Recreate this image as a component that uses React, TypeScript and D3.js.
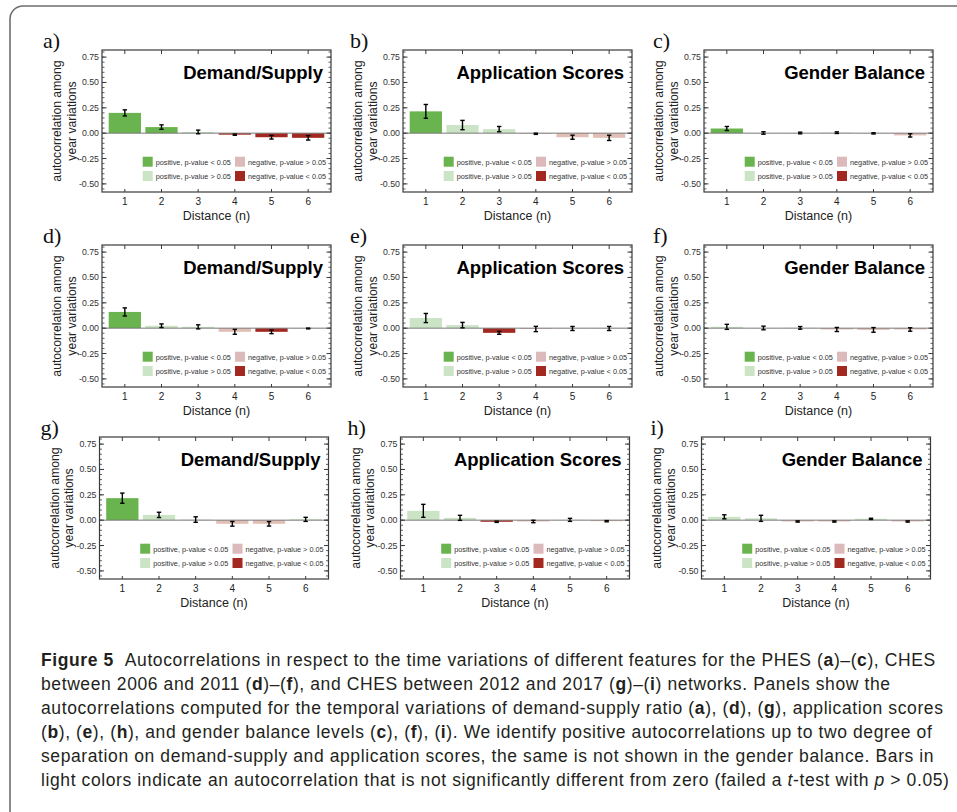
import React, { useEffect } from "react";
import * as d3 from "d3";

// distance n on the x axis
const distances = [1, 2, 3, 4, 5, 6];
const yTicks = [0.75, 0.5, 0.25, 0, -0.25, -0.5];
const featureTitles = ["Demand/Supply", "Application Scores", "Gender Balance"];
const panelLetters = ["a)", "b)", "c)", "d)", "e)", "f)", "g)", "h)", "i)"];

// ps = positive p<0.05, pn = positive p>0.05, nn = negative p>0.05, ns = negative p<0.05
// PHES
const valuesA = [0.2, 0.06, 0.012, -0.015, -0.04, -0.046];
const errorsA = [0.03, 0.022, 0.018, 0.006, 0.018, 0.022];
const classesA = ["ps", "ps", "pn", "ns", "ns", "ns"];
const valuesB = [0.215, 0.08, 0.04, -0.006, -0.04, -0.046];
const errorsB = [0.068, 0.046, 0.026, 0.006, 0.02, 0.026];
const classesB = ["ps", "pn", "pn", "nn", "nn", "nn"];
const valuesC = [0.046, 0.002, 0.002, 0.005, -0.002, -0.022];
const errorsC = [0.02, 0.012, 0.008, 0.008, 0.006, 0.016];
const classesC = ["ps", "pn", "pn", "pn", "nn", "nn"];
// CHES 2006-2011
const valuesD = [0.16, 0.024, 0.013, -0.036, -0.036, -0.003];
const errorsD = [0.04, 0.018, 0.02, 0.024, 0.018, 0.004];
const classesD = ["ps", "pn", "pn", "nn", "ns", "nn"];
const valuesE = [0.1, 0.03, -0.046, -0.008, -0.003, -0.003];
const errorsE = [0.045, 0.027, 0.014, 0.026, 0.02, 0.02];
const classesE = ["pn", "pn", "ns", "nn", "nn", "nn"];
const valuesF = [0.013, 0.002, 0.003, -0.013, -0.017, -0.013];
const errorsF = [0.025, 0.018, 0.013, 0.02, 0.023, 0.017];
const classesF = ["pn", "pn", "pn", "nn", "nn", "nn"];
// CHES 2012-2017
const valuesG = [0.217, 0.052, 0.006, -0.036, -0.036, 0.008];
const errorsG = [0.05, 0.026, 0.027, 0.023, 0.022, 0.02];
const classesG = ["ps", "pn", "pn", "nn", "nn", "pn"];
const valuesH = [0.092, 0.023, -0.016, -0.013, 0.003, -0.01];
const errorsH = [0.064, 0.025, 0.006, 0.012, 0.015, 0.006];
const classesH = ["pn", "pn", "ns", "nn", "pn", "nn"];
const valuesI = [0.033, 0.018, -0.013, -0.013, 0.013, -0.013];
const errorsI = [0.02, 0.03, 0.006, 0.006, 0.006, 0.006];
const classesI = ["pn", "pn", "nn", "nn", "pn", "nn"];

const legendItems = [
  { key: "ps", label: "positive, p-value < 0.05" },
  { key: "nn", label: "negative, p-value > 0.05" },
  { key: "pn", label: "positive, p-value > 0.05" },
  { key: "ns", label: "negative, p-value < 0.05" },
];

const captionLines = [
  "**Figure 5**\u00a0\u00a0Autocorrelations in respect to the time variations of different features for the PHES (**a**)–(**c**), CHES",
  "between 2006 and 2011 (**d**)–(**f**), and CHES between 2012 and 2017 (**g**)–(**i**) networks. Panels show the",
  "autocorrelations computed for the temporal variations of demand-supply ratio (**a**), (**d**), (**g**), application scores",
  "(**b**), (**e**), (**h**), and gender balance levels (**c**), (**f**), (**i**). We identify positive autocorrelations up to two degree of",
  "separation on demand-supply and application scores, the same is not shown in the gender balance. Bars in",
  "light colors indicate an autocorrelation that is not significantly different from zero (failed a _t_-test with _p_ > 0.05)",
];

const colors = { ps: "#6ab44f", pn: "#cbe4c6", nn: "#e2bfb6", ns: "#a3281f" };
const legendColors = { ps: "#6ab44f", pn: "#cbe4c6", nn: "#dcbabb", ns: "#a3281f" };

const panels = [
  [valuesA, errorsA, classesA],
  [valuesB, errorsB, classesB],
  [valuesC, errorsC, classesC],
  [valuesD, errorsD, classesD],
  [valuesE, errorsE, classesE],
  [valuesF, errorsF, classesF],
  [valuesG, errorsG, classesG],
  [valuesH, errorsH, classesH],
  [valuesI, errorsI, classesI],
];

const colLeft = [102, 403, 704];
const rowTop = [50, 245, 437];
const rowShift = [0, 0, -2.5];
const letterOffset = [-59, -53, -51];
const PW = 229;
const PH = 142;
const FONT = "'Liberation Sans', Arial, Helvetica, sans-serif";

function Panel({ idx }: { idx: number }) {
  const col = idx % 3;
  const row = Math.floor(idx / 3);
  const L = colLeft[col] + rowShift[row];
  const T = rowTop[row];
  const R = L + PW;
  const B = T + PH;
  const [vals, errs, cls] = panels[idx] as [number[], number[], string[]];

  const x = d3
    .scaleBand<number>()
    .domain(distances)
    .range([L + 4.5, R - 4.5])
    .paddingInner(0.12)
    .paddingOuter(0.06);
  const y = d3.scaleLinear().domain([-0.58, 0.82]).range([B, T]);
  const minor = d3.range(-11, 17).map((k) => k * 0.05).filter((v) => y(v) > T + 1 && y(v) < B - 1);
  const cx = (d: number) => (x(d) as number) + x.bandwidth() / 2;

  return (
    <g>
      <text x={L + letterOffset[col]} y={T - 2} fontFamily="'Liberation Serif', 'Times New Roman', serif" fontSize={22} fill="#111">
        {panelLetters[idx]}
      </text>
      {distances.map((d, i) => {
        const v = vals[i];
        return (
          <rect
            key={"b" + d}
            x={x(d)}
            width={x.bandwidth()}
            y={y(Math.max(0, v))}
            height={Math.abs(y(v) - y(0))}
            fill={(colors as any)[cls[i]]}
          />
        );
      })}
      <line x1={L} x2={R} y1={y(0)} y2={y(0)} stroke="#7a7a7a" strokeWidth={1} />
      {distances.map((d, i) => {
        const v = vals[i];
        const e = errs[i];
        const c = cx(d);
        return (
          <g key={"e" + d} stroke="#000" strokeWidth={1.4}>
            <line x1={c} x2={c} y1={y(v - e)} y2={y(v + e)} />
            <line x1={c - 2.2} x2={c + 2.2} y1={y(v - e)} y2={y(v - e)} />
            <line x1={c - 2.2} x2={c + 2.2} y1={y(v + e)} y2={y(v + e)} />
          </g>
        );
      })}
      {/* frame and ticks */}
      <rect x={L} y={T} width={PW} height={PH} fill="none" stroke="#3a3a3a" strokeWidth={1.2} />
      {minor.map((v) => (
        <g key={"m" + v} stroke="#3a3a3a" strokeWidth={0.8}>
          <line x1={L} x2={L + 2.5} y1={y(v)} y2={y(v)} />
          <line x1={R} x2={R - 2.5} y1={y(v)} y2={y(v)} />
        </g>
      ))}
      {yTicks.map((v) => (
        <g key={"t" + v}>
          <line x1={L} x2={L + 4.5} y1={y(v)} y2={y(v)} stroke="#3a3a3a" strokeWidth={1} />
          <line x1={R} x2={R - 4.5} y1={y(v)} y2={y(v)} stroke="#3a3a3a" strokeWidth={1} />
          <text x={L - 3} y={y(v) + 3} textAnchor="end" fontFamily={FONT} fontSize={8.8} fill="#333">
            {d3.format(".2f")(v).replace("−", "-")}
          </text>
        </g>
      ))}
      {distances.map((d) => (
        <g key={"x" + d}>
          <line x1={cx(d)} x2={cx(d)} y1={T} y2={T + 4} stroke="#3a3a3a" strokeWidth={1} />
          <line x1={cx(d)} x2={cx(d)} y1={B} y2={B - 3} stroke="#3a3a3a" strokeWidth={1} />
          <text x={cx(d)} y={B + 13} textAnchor="middle" fontFamily={FONT} fontSize={10} fill="#222">
            {d}
          </text>
        </g>
      ))}
      <text x={(L + R) / 2} y={B + 28} textAnchor="middle" fontFamily={FONT} fontSize={12.5} fill="#222">
        Distance (n)
      </text>
      <text
        transform={`translate(${L - 41},${(T + B) / 2}) rotate(-90)`}
        textAnchor="middle"
        fontFamily={FONT}
        fontSize={12.2}
        fill="#222"
      >
        <tspan x={0} dy={0}>autocorrelation among</tspan>
        <tspan x={0} dy={14.5}>year variations</tspan>
      </text>
      <text x={R - 8} y={T + 29} textAnchor="end" fontFamily={FONT} fontWeight="bold" fontSize={18.5} fill="#000">
        {featureTitles[col]}
      </text>
      {legendItems.map((it, k) => {
        const lx = L + (k % 2 === 0 ? 40.7 : 133);
        const ly = T + (k < 2 ? 106.7 : 121);
        return (
          <g key={it.key}>
            <rect x={lx} y={ly} width={10} height={10} fill={(legendColors as any)[it.key]} />
            <text x={lx + 13} y={ly + 7.8} fontFamily={FONT} fontSize={7.3} fill="#333">
              {it.label}
            </text>
          </g>
        );
      })}
    </g>
  );
}

function CaptionLine({ text, i }: { text: string; i: number }) {
  const parts = text.split(/(\*\*[^*]+\*\*|_[^_]+_)/).filter((p) => p.length > 0);
  return (
    <text
      x={41}
      y={666 + i * 24}
      fontFamily="'Liberation Sans', Arial, sans-serif"
      fontSize={17.5}
      letterSpacing={0.6}
      fill="#231f20"
    >
      {parts.map((p, k) => {
        if (p.startsWith("**")) return <tspan key={k} fontWeight="bold">{p.slice(2, -2)}</tspan>;
        if (p.startsWith("_")) return <tspan key={k} fontStyle="italic">{p.slice(1, -1)}</tspan>;
        return <tspan key={k}>{p}</tspan>;
      })}
    </text>
  );
}

export default function App() {
  useEffect(() => {
    document.body.style.margin = "0";
  }, []);

  return (
    <svg width={957} height={812} style={{ display: "block", background: "#fff" }}>
      <rect x={10} y={6} width={990} height={860} rx={13} fill="none" stroke="#6e6e6e" strokeWidth={1.6} />
      {panels.map((_, i) => (
        <Panel key={i} idx={i} />
      ))}
      {captionLines.map((t, i) => (
        <CaptionLine key={i} text={t} i={i} />
      ))}
    </svg>
  );
}
